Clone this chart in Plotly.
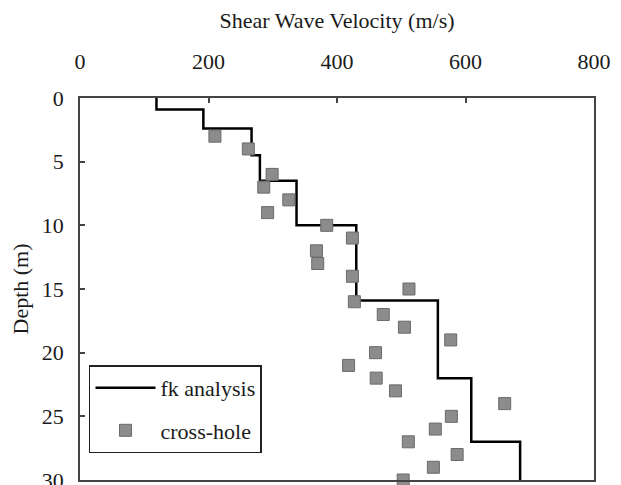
import plotly.graph_objects as go

# fk analysis layered profile
layer_top_depth = [0, 0.9, 2.4, 4.5, 6.5, 10, 15.9, 22, 27]
layer_velocity = [119, 192, 267, 280, 337, 430, 557, 609, 685]
profile_bottom = 30

# cross-hole measurements
xh_velocity = [210, 262, 299, 286, 325, 292, 384, 424, 368, 370, 424, 512, 427, 472, 505, 577,
               460, 418, 461, 491, 661, 578, 553, 511, 587, 550, 503]
xh_depth = [3, 4, 6, 7, 8, 9, 10, 11, 12, 13, 14, 15, 16, 17, 18, 19,
            20, 21, 22, 23, 24, 25, 26, 27, 28, 29, 30]

x_ticks = [0, 200, 400, 600, 800]
y_ticks = [0, 5, 10, 15, 20, 25, 30]

FONT = "Liberation Serif"
FS = 22

fig = go.Figure()
fig.add_trace(go.Scatter(
    x=layer_velocity + [layer_velocity[-1]],
    y=layer_top_depth + [profile_bottom],
    mode="lines", line=dict(color="black", width=2.5, shape="vh"),
    name="fk analysis", legendgroup="a", cliponaxis=False,
))
fig.add_trace(go.Scatter(
    x=xh_velocity, y=xh_depth, mode="markers",
    marker=dict(symbol="square", size=12, color="#8c8c8c",
                line=dict(color="#6a6a6a", width=1)),
    name="cross-hole", legendgroup="b", cliponaxis=False,
))

axis_common = dict(
    showline=True, linecolor="#444", linewidth=1.5, mirror=True,
    ticks="inside", ticklen=5, tickcolor="#444", tickwidth=1.5,
    showgrid=False, zeroline=False, ticklabeloverflow="allow",
    tickfont=dict(family=FONT, size=FS, color="#1a1a1a"),
)
fig.update_xaxes(
    range=[0, 800], side="top", tickvals=x_ticks, ticklabelstandoff=18,
    title=dict(text="Shear Wave Velocity (m/s)", font=dict(family=FONT, size=FS, color="#1a1a1a"), standoff=18),
    **axis_common,
)
fig.update_yaxes(
    range=[30, 0], tickvals=y_ticks, ticklabelstandoff=10,
    title=dict(text="Depth (m)", font=dict(family=FONT, size=FS, color="#1a1a1a"), standoff=8),
    **axis_common,
)
fig.update_layout(
    width=613, height=477,
    margin=dict(l=72, r=27, t=90, b=5, autoexpand=False),
    paper_bgcolor="white", plot_bgcolor="white",
    showlegend=True,
    legend=dict(
        x=0.0175, y=0.30, xanchor="left", yanchor="top",
        bordercolor="#222", borderwidth=1.5, bgcolor="white",
        font=dict(family=FONT, size=FS, color="#1a1a1a"),
        traceorder="grouped", tracegroupgap=11, itemwidth=60,
        entrywidth=170, entrywidthmode="pixels",
    ),
)
fig.write_html("out.html")
